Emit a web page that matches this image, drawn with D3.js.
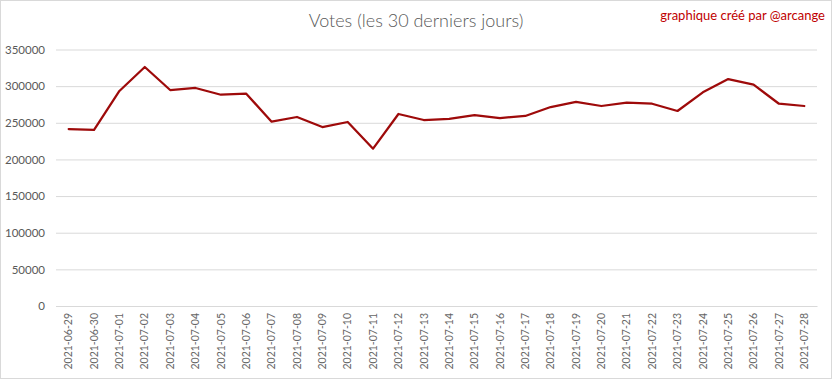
<!DOCTYPE html>
<html><head><meta charset="utf-8">
<script src="https://cdn.jsdelivr.net/npm/d3@7"></script>
<style>
html,body{margin:0;padding:0;background:#fff;}
svg{display:block;}
</style></head>
<body>
<svg id="chart" width="832" height="379"></svg>
<script>
const dates = ["2021-06-29","2021-06-30","2021-07-01","2021-07-02","2021-07-03","2021-07-04","2021-07-05","2021-07-06","2021-07-07","2021-07-08","2021-07-09","2021-07-10","2021-07-11","2021-07-12","2021-07-13","2021-07-14","2021-07-15","2021-07-16","2021-07-17","2021-07-18","2021-07-19","2021-07-20","2021-07-21","2021-07-22","2021-07-23","2021-07-24","2021-07-25","2021-07-26","2021-07-27","2021-07-28"];
const votes = [241500,240200,293400,326100,294700,297500,288300,289700,251500,257900,244200,251100,214700,262000,253800,255200,260600,256500,259300,271500,278400,272900,277400,276000,266100,291600,309700,302000,276000,272900];
const yTicks = [0,50000,100000,150000,200000,250000,300000,350000];
const titleText = "Votes (les 30 derniers jours)";
const creditText = "graphique créé par @arcange";

const W = 832, H = 379;
const m = {left:56, right:15, top:49.5, bottom:73};
const svg = d3.select("#chart");

svg.append("rect").attr("x",0.5).attr("y",0.5).attr("width",W-1).attr("height",H-1)
  .attr("fill","#fff").attr("stroke","#d9d9d9");

const x = d3.scaleBand().domain(dates).range([m.left, W-m.right]);
const y = d3.scaleLinear().domain([0,350000]).range([H-m.bottom, m.top]);

// gridlines
const yAxis = d3.axisLeft(y).tickValues(yTicks).tickSize(-(W-m.right-m.left)).tickPadding(11).tickFormat(d3.format("d"));
const gy = svg.append("g").attr("transform",`translate(${m.left},0)`).call(yAxis);
gy.select(".domain").remove();
gy.selectAll(".tick line").attr("stroke","#d9d9d9").attr("stroke-width",1);
gy.selectAll(".tick text").attr("fill","#595959").style("font-family","Lato, 'Open Sans', sans-serif").style("font-size","11.5px");

// x axis
const xAxis = d3.axisBottom(x).tickSize(0).tickPadding(0);
const gx = svg.append("g").attr("transform",`translate(0,${H-m.bottom})`).call(xAxis);
gx.select(".domain").attr("stroke","#d9d9d9");
gx.selectAll(".tick text")
  .attr("fill","#666666")
  .style("font-family","Lato, 'Open Sans', sans-serif")
  .style("font-size","10.5px")
  .attr("text-anchor","end")
  .attr("dy","0.35em")
  .attr("transform","translate(0,7) rotate(-90)")
  .attr("x",0).attr("y",0);

// line
const line = d3.line().x((d,i)=>x(dates[i])+x.bandwidth()/2).y(d=>y(d));
svg.append("path").datum(votes).attr("d",line)
  .attr("fill","none").attr("stroke","#9e0a0a").attr("stroke-width",2.25)
  .attr("stroke-linejoin","round").attr("stroke-linecap","round");

// title
svg.append("text").attr("x",416).attr("y",27).attr("text-anchor","middle")
  .attr("fill","#595959").style("font-family","Lato, 'Open Sans', sans-serif")
  .style("font-size","18px").style("font-weight","300").text(titleText);
svg.append("text").attr("x",825).attr("y",20).attr("text-anchor","end")
  .attr("fill","#c00000").style("font-family","Lato, 'Open Sans', sans-serif")
  .style("font-size","13px").text(creditText);
</script>
</body></html>
